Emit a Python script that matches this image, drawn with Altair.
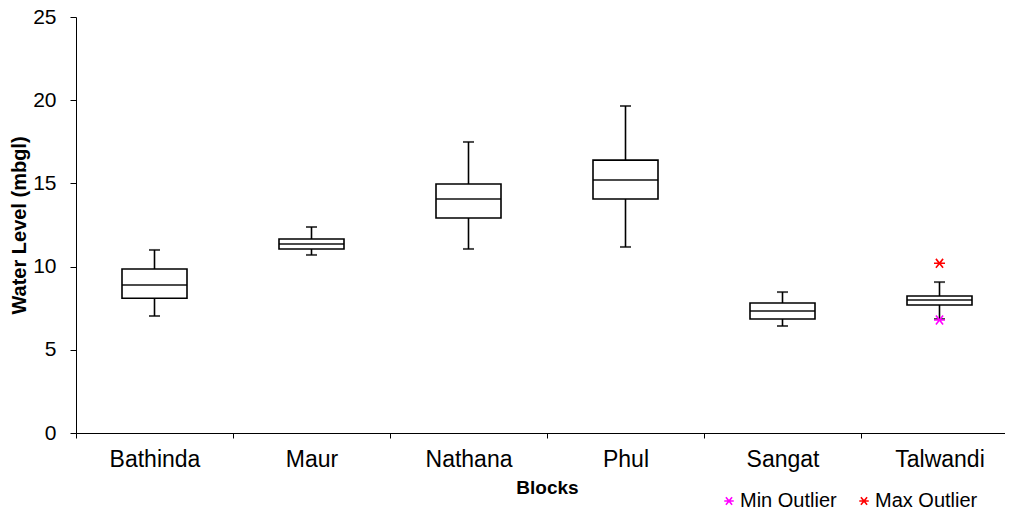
import altair as alt
import pandas as pd

blocks = ["Bathinda", "Maur", "Nathana", "Phul", "Sangat", "Talwandi"]
whisker_low = [7.03, 10.70, 11.06, 11.18, 6.43, 6.85]
q1 = [8.10, 11.06, 12.92, 14.06, 6.85, 7.69]
median = [8.90, 11.36, 14.06, 15.20, 7.33, 7.99]
q3 = [9.86, 11.66, 14.96, 16.40, 7.81, 8.23]
whisker_high = [11.00, 12.38, 17.49, 19.65, 8.47, 9.07]

outlier_block = ["Talwandi", "Talwandi"]
outlier_value = [6.79, 10.20]
outlier_type = ["Min Outlier", "Max Outlier"]

df = pd.DataFrame({"block": blocks, "lo": whisker_low, "q1": q1,
                   "med": median, "q3": q3, "hi": whisker_high})
df["pos"] = [blocks.index(b) + 0.5 for b in df["block"]]
odf = pd.DataFrame({"block": outlier_block, "value": outlier_value, "type": outlier_type})
odf["pos"] = [blocks.index(b) + 0.5 for b in odf["block"]]

star = "M-1,0L1,0M-0.65,-0.8L0.65,0.8M-0.65,0.8L0.65,-0.8"

PLOT_W = 929
names_js = "[" + ",".join("'" + b + "'" for b in blocks) + "]"
label_expr = "datum.value % 1 == 0.5 ? " + names_js + "[floor(datum.value)] : ''"
xvals = [i * 0.5 for i in range(12)]
xscale = alt.Scale(domain=[0, PLOT_W / 157], nice=False, zero=False, padding=0)
xaxis = alt.Axis(values=xvals,
                 labelExpr=label_expr,
                 tickOpacity={"condition": {"test": "datum.value % 1 != 0", "value": 0}, "value": 1},
                 labelOverlap=False, labelFlush=False, labelBound=False, grid=False,
                 tickSize=5, labelPadding=10, labelFontSize=23, labelAngle=0,
                 titleFontSize=19, titleFontWeight="bold", titlePadding=7, titleX=471,
                 domainColor="black", tickColor="black", labelColor="black", titleColor="black")
xenc = alt.X("pos:Q", scale=xscale, axis=xaxis, title="Blocks")

yscale = alt.Scale(domain=[0, 25], nice=False, zero=True)
yaxis = alt.Axis(values=[0, 5, 10, 15, 20, 25], tickSize=6, labelPadding=14,
                 labelFontSize=21, titleFontSize=20, titleFontWeight="bold",
                 titlePadding=3, domainColor="black", tickColor="black",
                 labelColor="black", titleColor="black", grid=False)

base = alt.Chart(df)
whisk = base.mark_rule(color="black", strokeWidth=1.6).encode(
    x=xenc, y=alt.Y("lo:Q", scale=yscale, axis=yaxis, title="Water Level (mbgl)"), y2="hi:Q")
box = base.mark_bar(size=65, color="white", stroke="black", strokeWidth=1.6).encode(
    x="pos:Q", y="q1:Q", y2="q3:Q")
med = base.mark_tick(orient="horizontal", size=65, thickness=2, color="black").encode(
    x="pos:Q", y="med:Q")
cap_lo = base.mark_tick(orient="horizontal", size=11, thickness=2, color="black").encode(
    x="pos:Q", y="lo:Q")
cap_hi = base.mark_tick(orient="horizontal", size=11, thickness=2, color="black").encode(
    x="pos:Q", y="hi:Q")

outl = alt.Chart(odf).mark_point(shape=star, filled=False, size=121, strokeWidth=1.6, opacity=1).encode(
    x="pos:Q", y="value:Q",
    color=alt.Color("type:N", sort=["Min Outlier", "Max Outlier"],
                    scale=alt.Scale(domain=["Min Outlier", "Max Outlier"], range=["#FF00FF", "#FF0000"]),
                    legend=alt.Legend(title=None, orient="none", direction="horizontal",
                                      legendX=643, legendY=474, symbolType=star, symbolSize=90,
                                      symbolStrokeWidth=1.6, labelFontSize=20, labelColor="black",
                                      columnPadding=17, labelOffset=1)))

chart = alt.layer(whisk, box, med, cap_lo, cap_hi, outl).properties(
    width=PLOT_W, height=416,
    autosize=alt.AutoSizeParams(type="none"),
    padding={"left": 68, "top": 9, "right": 0, "bottom": 90},
).configure(font="Liberation Sans").configure_view(stroke=None)

chart.save("out.html", embed_options={"renderer": "svg", "actions": False})
